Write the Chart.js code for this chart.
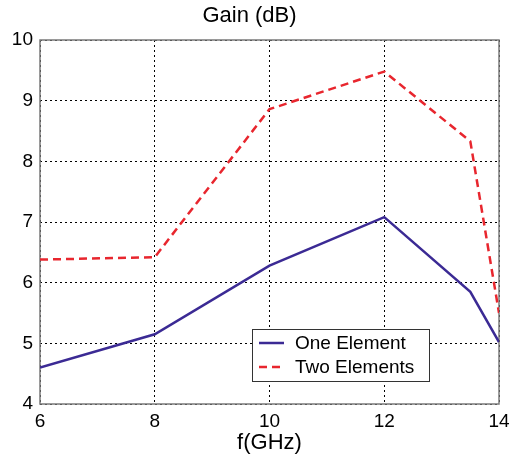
<!DOCTYPE html>
<html>
<head>
<meta charset="utf-8">
<script src="https://cdn.jsdelivr.net/npm/chart.js@4"></script>
<style>
  html, body { margin: 0; padding: 0; background: #fff; }
  #wrap { width: 511px; height: 458px; }
</style>
</head>
<body>
<div id="wrap"><canvas id="gain"></canvas></div>
<script>
// frequency points (GHz)
const freqs = [6, 8, 10, 12, 13.5, 14];
// gain values (dB)
const oneElement = [4.6, 5.15, 6.28, 7.08, 5.85, 5.02];
const twoElements = [6.38, 6.42, 8.86, 9.48, 8.33, 5.5];
const xTicks = [6, 8, 10, 12, 14];
const yTicks = [4, 5, 6, 7, 8, 9, 10];

const FONT = "'Liberation Sans', Arial, sans-serif";

// solid grey frame round the plot area
const frame = {
  id: 'frame',
  beforeDatasetsDraw(chart) {
    const { ctx, chartArea: a } = chart;
    ctx.save();
    ctx.strokeStyle = '#7a7a7a';
    ctx.lineWidth = 1.5;
    ctx.strokeRect(a.left, a.top, a.right - a.left, a.bottom - a.top);
    ctx.restore();
  }
};

// boxed legend sitting inside the plot, lower middle
const boxLegend = {
  id: 'boxLegend',
  afterDraw(chart) {
    const { ctx, chartArea: a } = chart;
    const x0 = a.left + 212, y0 = a.top + 289, w = 177, h = 52;
    ctx.save();
    ctx.fillStyle = '#fff';
    ctx.fillRect(x0, y0, w, h);
    ctx.strokeStyle = '#333';
    ctx.lineWidth = 1;
    ctx.strokeRect(x0 + 0.5, y0 + 0.5, w, h);
    ctx.font = '19px ' + FONT;
    ctx.textBaseline = 'middle';
    chart.data.datasets.forEach((ds, i) => {
      const y = y0 + 14 + i * 24;
      ctx.strokeStyle = ds.borderColor;
      ctx.lineWidth = ds.borderWidth;
      ctx.setLineDash(ds.borderDash || []);
      ctx.beginPath();
      ctx.moveTo(x0 + 7, y);
      ctx.lineTo(x0 + 32, y);
      ctx.stroke();
      ctx.setLineDash([]);
      ctx.fillStyle = '#000';
      ctx.fillText(ds.label, x0 + 43, y + 1);
    });
    ctx.restore();
  }
};

const dotted = {
  color: '#000',
  lineWidth: 1,
  drawTicks: false
};

new Chart(document.getElementById('gain'), {
  type: 'line',
  data: {
    datasets: [
      {
        label: 'One Element',
        data: freqs.map((f, i) => ({ x: f, y: oneElement[i] })),
        borderColor: '#3b2a94',
        borderWidth: 2.5,
        pointRadius: 0,
        tension: 0
      },
      {
        label: 'Two Elements',
        data: freqs.map((f, i) => ({ x: f, y: twoElements[i] })),
        borderColor: '#e8262e',
        borderWidth: 2.5,
        borderDash: [8, 5],
        pointRadius: 0,
        tension: 0
      }
    ]
  },
  options: {
    responsive: true,
    maintainAspectRatio: false,
    animation: false,
    layout: { padding: { left: 0, right: 12, top: 0, bottom: 0 } },
    plugins: {
      legend: { display: false },
      tooltip: { enabled: false },
      title: {
        display: true,
        text: 'Gain (dB)',
        color: '#000',
        font: { family: FONT, size: 22, weight: 'normal' },
        padding: { top: 2.5, bottom: 11.1 }
      }
    },
    scales: {
      x: {
        type: 'linear',
        min: 6,
        max: 14,
        afterBuildTicks: s => { s.ticks = xTicks.map(v => ({ value: v })); },
        afterFit: s => { s.height = 54; s.paddingLeft = 0; s.paddingRight = 0; },
        grid: dotted,
        border: { display: false, dash: [2, 3] },
        ticks: { color: '#000', padding: 6, font: { family: FONT, size: 19 } },
        title: {
          display: true,
          text: 'f(GHz)',
          color: '#000',
          font: { family: FONT, size: 22 },
          padding: { top: 0, bottom: 2 }
        }
      },
      y: {
        min: 4,
        max: 10,
        afterBuildTicks: s => { s.ticks = yTicks.map(v => ({ value: v })); },
        afterFit: s => { s.width = 40; s.paddingTop = 0; s.paddingBottom = 0; },
        grid: dotted,
        border: { display: false, dash: [2, 3] },
        ticks: { color: '#000', padding: 7, font: { family: FONT, size: 19 } }
      }
    }
  },
  plugins: [frame, boxLegend]
});
</script>
</body>
</html>
